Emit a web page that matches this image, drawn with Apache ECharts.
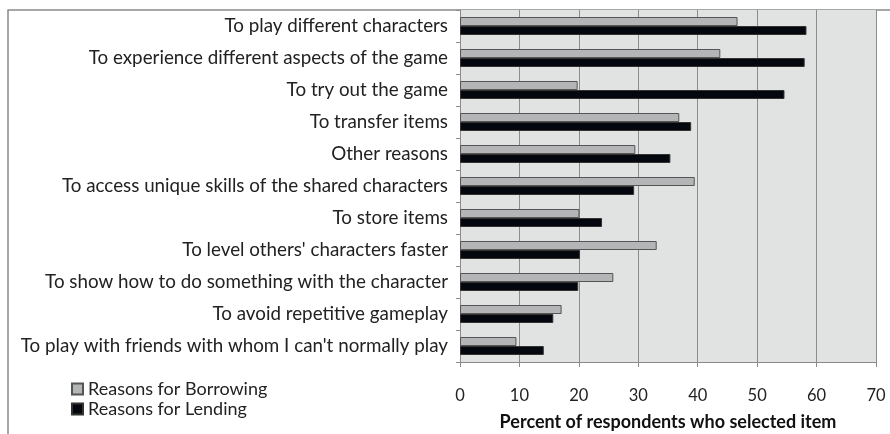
<!DOCTYPE html>
<html><head><meta charset="utf-8">
<script src="https://cdn.jsdelivr.net/npm/echarts@6/dist/echarts.min.js"></script>
<style>html,body{margin:0;padding:0;background:#fff}#c{width:890px;height:434px}</style>
</head><body><div id="c"></div>
<script>
const categories = [
  "To play different characters",
  "To experience different aspects of the game",
  "To try out the game",
  "To transfer items",
  "Other reasons",
  "To access unique skills of the shared characters",
  "To store items",
  "To level others' characters faster",
  "To show how to do something with the character",
  "To avoid repetitive gameplay",
  "To play with friends with whom I can't normally play"
];
const borrowing = [46.7, 43.8, 19.8, 36.9, 29.5, 39.5, 20.1, 33.1, 25.8, 17.1, 9.5];
const lending   = [58.3, 58.0, 54.6, 38.9, 35.4, 29.3, 23.9, 20.2, 19.9, 15.7, 14.1];
const xTicks = [0, 10, 20, 30, 40, 50, 60, 70];

const font = "Lato, 'Open Sans', sans-serif";
const chart = echarts.init(document.getElementById('c'), null, {renderer: 'canvas'});
chart.setOption({
  animation: false,
  backgroundColor: '#ffffff',
  graphic: [{
    type: 'rect', z: -10, silent: true,
    shape: {x: 8, y: 10, width: 1200, height: 1200},
    style: {fill: 'none', stroke: '#8a8a8a', lineWidth: 1.5}
  }],
  legend: {
    orient: 'vertical', left: 66, top: 375, itemGap: 2,
    itemWidth: 11, itemHeight: 11, icon: 'rect',
    textStyle: {fontFamily: font, fontSize: 18, color: '#222'},
    data: ['Reasons for Borrowing', 'Reasons for Lending']
  },
  grid: {left: 460, top: 10, right: 14, bottom: 72, containLabel: false, outerBoundsMode: 'none',
    show: true, backgroundColor: '#e1e2e2', borderWidth: 0},
  xAxis: {
    type: 'value', min: xTicks[0], max: xTicks[xTicks.length - 1], interval: 10,
    name: 'Percent of respondents who selected item',
    nameLocation: 'middle', nameGap: 51,
    nameTextStyle: {fontFamily: font, fontSize: 18, fontWeight: 'bold', color: '#111'},
    axisLine: {show: true, lineStyle: {color: '#8a8a8a', width: 1}},
    axisTick: {show: true, length: 5, lineStyle: {color: '#8a8a8a'}},
    axisLabel: {fontFamily: font, fontSize: 16.5, color: '#222', margin: 25},
    splitLine: {show: true, lineStyle: {color: '#8c8c8c', width: 1}}
  },
  yAxis: {
    type: 'category', data: categories, inverse: true,
    axisLine: {show: true, lineStyle: {color: '#8a8a8a', width: 1}},
    axisTick: {show: true, length: 4, lineStyle: {color: '#8a8a8a'}},
    axisLabel: {fontFamily: font, fontSize: 18.8, color: '#222', margin: 12},
    splitLine: {show: false}
  },
  series: [
    {name: 'Reasons for Borrowing', type: 'bar', data: borrowing, barWidth: 9, barGap: '0%',
      itemStyle: {color: '#b3b5b6', borderColor: '#555', borderWidth: 1}},
    {name: 'Reasons for Lending', type: 'bar', data: lending, barWidth: 9, barGap: '0%',
      itemStyle: {color: '#05070e', borderColor: '#333', borderWidth: 1}}
  ]
});
</script></body></html>
